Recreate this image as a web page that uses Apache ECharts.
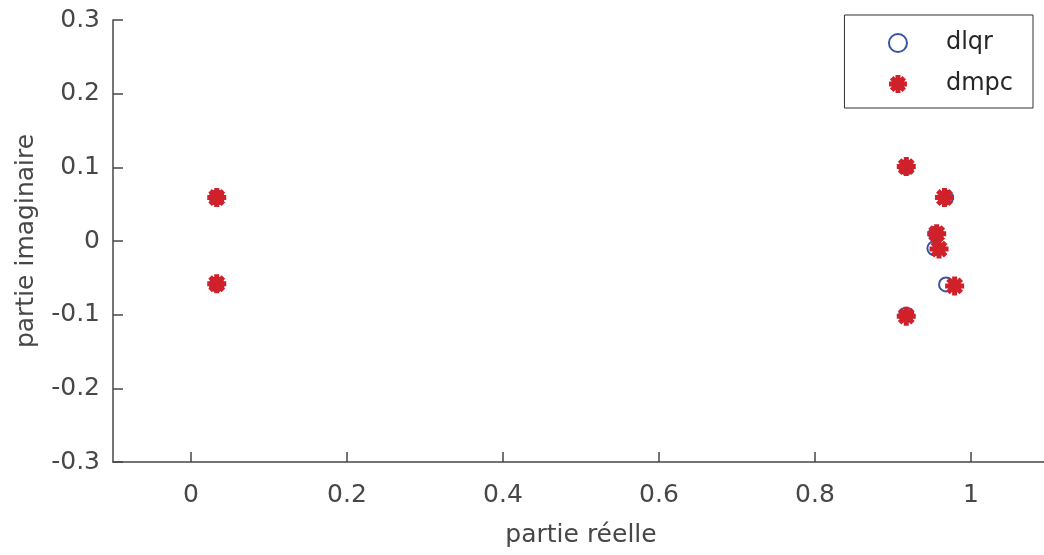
<!DOCTYPE html>
<html>
<head>
<meta charset="utf-8">
<script src="https://cdn.jsdelivr.net/npm/echarts@6/dist/echarts.min.js"></script>
<style>html,body{margin:0;padding:0;background:#fff}#c{width:1044px;height:555px}</style>
</head>
<body>
<div id="c"></div>
<script>
// Data
var dlqrX = [0.033, 0.033, 0.917, 0.917, 0.968, 0.968, 0.955, 0.953];
var dlqrY = [0.059, -0.059, 0.100, -0.100, 0.059, -0.059, 0.010, -0.010];
var dmpcX = [0.033, 0.033, 0.917, 0.917, 0.966, 0.979, 0.956, 0.959];
var dmpcY = [0.059, -0.058, 0.101, -0.102, 0.059, -0.061, 0.010, -0.011];
var seriesNames = ['dlqr', 'dmpc'];
var xTicks = [0, 0.2, 0.4, 0.6, 0.8, 1];
var yTicks = [-0.3, -0.2, -0.1, 0, 0.1, 0.2, 0.3];
var xTitle = 'partie réelle';
var yTitle = 'partie imaginaire';

function pairs(xs, ys) { return xs.map(function (x, i) { return [x, ys[i]]; }); }

var FONT = 'DejaVu Sans';
var AXC = '#474747';
var RED = '#d0202a';
var BLUE = '#3556a6';
var star = 'path://M0 10 L20 10 M10 0 L10 20 M3 3 L17 17 M17 3 L3 17';
function fmt(v) { return String(Math.round(v * 10) / 10); }

var chart = echarts.init(document.getElementById('c'), null, {renderer: 'canvas'});
chart.setOption({
  animation: false,
  backgroundColor: '#ffffff',
  grid: {left: 113, top: 20, width: 936, height: 442, containLabel: false, outerBoundsMode: 'none'},
  legend: {
    orient: 'vertical', right: 11, top: 15,
    padding: [16, 20, 12, 42],
    itemWidth: 86, itemHeight: 18, itemGap: 17,
    backgroundColor: '#ffffff', borderColor: '#333333', borderWidth: 1,
    textStyle: {fontFamily: FONT, fontSize: 24, color: '#262626'},
    data: [
      {name: seriesNames[0], itemStyle: {borderWidth: 1.6}},
      {name: seriesNames[1], itemStyle: {borderWidth: 5}}
    ]
  },
  xAxis: {
    type: 'value', min: -0.1, max: 1.1,
    name: xTitle, nameLocation: 'middle', nameGap: 61,
    nameTextStyle: {fontFamily: FONT, fontSize: 25, color: AXC},
    axisLine: {show: true, onZero: false, lineStyle: {color: AXC, width: 1.5}},
    axisTick: {show: true, inside: true, length: 10, customValues: xTicks, lineStyle: {color: AXC, width: 1.5}},
    axisLabel: {margin: 21, customValues: xTicks,
      fontFamily: FONT, fontSize: 25, color: AXC, formatter: fmt},
    splitLine: {show: false}
  },
  yAxis: {
    type: 'value', min: -0.3, max: 0.3,
    name: yTitle, nameLocation: 'middle', nameGap: 74, nameRotate: 90,
    nameTextStyle: {fontFamily: FONT, fontSize: 25, color: AXC},
    axisLine: {show: true, onZero: false, lineStyle: {color: AXC, width: 1.5}},
    axisTick: {show: true, inside: true, length: 10, customValues: yTicks, lineStyle: {color: AXC, width: 1.5}},
    axisLabel: {margin: 13, customValues: yTicks, fontFamily: FONT, fontSize: 25, color: AXC, formatter: fmt},
    splitLine: {show: false}
  },
  series: [
    {
      name: seriesNames[0], type: 'scatter', data: pairs(dlqrX, dlqrY),
      symbol: 'emptyCircle', symbolSize: 14,
      itemStyle: {color: BLUE, borderColor: BLUE, borderWidth: 1.6, opacity: 1}
    },
    {
      name: seriesNames[1], type: 'scatter', data: pairs(dmpcX, dmpcY),
      symbol: star, symbolSize: 19,
      itemStyle: {color: RED, borderColor: RED, borderWidth: 5, opacity: 1}
    }
  ]
});
</script>
</body>
</html>
